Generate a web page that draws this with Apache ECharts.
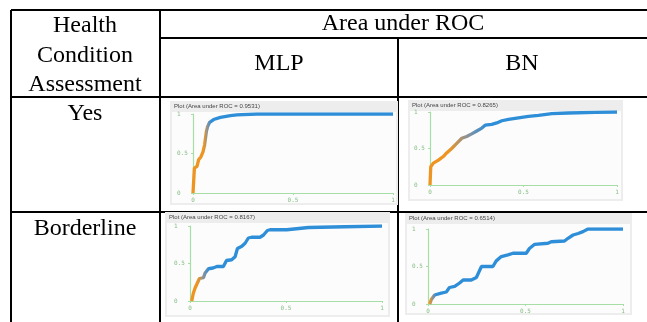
<!DOCTYPE html>
<html>
<head>
<meta charset="utf-8">
<script src="https://cdn.jsdelivr.net/npm/echarts@6/dist/echarts.min.js"></script>
<style>
  html, body { margin: 0; padding: 0; background: #fff; }
  #chart { width: 647px; height: 322px; }
</style>
</head>
<body>
<div id="chart"></div>
<script>
// table text
var rowNames = ['Yes', 'Borderline'];
var modelNames = ['MLP', 'BN'];
var aucTitles = [
  'Plot (Area under ROC = 0.9531)', 'Plot (Area under ROC = 0.8265)',
  'Plot (Area under ROC = 0.8167)', 'Plot (Area under ROC = 0.6514)'
];
var tickValues = [0, 0.5, 1];

// ROC curves: [false positive rate, true positive rate]
var mlpYes = [
  [0, 0], [0.007, 0.315], [0.02, 0.336], [0.028, 0.42], [0.04, 0.46], [0.05, 0.52],
  [0.058, 0.61], [0.067, 0.78], [0.073, 0.84], [0.083, 0.895], [0.103, 0.93],
  [0.137, 0.958], [0.187, 0.98], [0.22, 0.99], [0.32, 1], [1, 1]
];
var bnYes = [
  [0, 0], [0.004, 0.25], [0.018, 0.3], [0.045, 0.34], [0.071, 0.39], [0.089, 0.44],
  [0.116, 0.5], [0.143, 0.57], [0.17, 0.64], [0.196, 0.665], [0.223, 0.7], [0.25, 0.74],
  [0.277, 0.78], [0.295, 0.82], [0.33, 0.83], [0.357, 0.85], [0.384, 0.88], [0.42, 0.9],
  [0.473, 0.92], [0.527, 0.94], [0.58, 0.955], [0.652, 0.977], [0.74, 0.986],
  [0.884, 0.995], [1, 1]
];
var mlpBorderline = [
  [0.009, 0], [0.017, 0.1], [0.026, 0.17], [0.035, 0.19], [0.049, 0.3], [0.07, 0.31],
  [0.078, 0.37], [0.096, 0.43], [0.12, 0.44], [0.14, 0.46], [0.174, 0.46], [0.19, 0.54],
  [0.217, 0.55], [0.235, 0.59], [0.247, 0.7], [0.27, 0.73], [0.287, 0.77], [0.304, 0.84],
  [0.32, 0.85], [0.365, 0.85], [0.383, 0.88], [0.403, 0.94], [0.417, 0.95], [0.504, 0.95],
  [0.513, 0.97], [0.617, 0.98], [0.626, 1], [1, 1]
];
var bnBorderline = [
  [0.009, 0], [0.017, 0.06], [0.034, 0.12], [0.068, 0.146], [0.094, 0.16], [0.11, 0.22],
  [0.137, 0.235], [0.162, 0.28], [0.18, 0.32], [0.222, 0.32], [0.248, 0.354], [0.274, 0.5],
  [0.333, 0.5], [0.35, 0.575], [0.376, 0.633], [0.41, 0.655], [0.436, 0.677], [0.504, 0.677],
  [0.52, 0.74], [0.547, 0.796], [0.615, 0.81], [0.632, 0.83], [0.7, 0.84], [0.718, 0.876],
  [0.744, 0.92], [0.77, 0.94], [0.795, 0.965], [0.82, 1], [1, 1]
];
var curves = [mlpYes, bnYes, mlpBorderline, bnBorderline];

// where the curve colour fades from orange to blue (threshold colouring)
var fadeRanges = [[0.055, 0.09], [0.1, 0.3], [0.04, 0.1], [0.01, 0.04]];

// plot placement: grid box and screenshot box
var plots = [
  { grid: [193, 114, 200, 79], img: [170, 101, 228, 104] },
  { grid: [430, 112, 187, 73], img: [408, 100, 215, 101] },
  { grid: [190, 226, 192, 75], img: [165, 212, 225, 105] },
  { grid: [428, 229, 195, 75], img: [405, 213, 227, 102] }
];

var chart = echarts.init(document.getElementById('chart'));
window.addEventListener('resize', function () { chart.resize(); });

var serif = 'Liberation Serif';
var axisGreen = '#a6dea6';
var labelGreen = '#86bf86';

function tableLine (x1, y1, x2, y2) {
  return {
    type: 'line', z: -20,
    shape: { x1: x1, y1: y1, x2: x2, y2: y2 },
    style: { stroke: '#000', lineWidth: 2 }
  };
}
function cellText (text, x, y) {
  return {
    type: 'text', z: 50, x: x, y: y,
    style: { text: text, font: '24px "' + serif + '"', fill: '#000', align: 'center', verticalAlign: 'middle' }
  };
}

var graphics = [
  tableLine(11, 10, 647, 10),
  tableLine(11, 10, 11, 322),
  tableLine(160, 10, 160, 322),
  tableLine(160, 38, 647, 38),
  tableLine(398, 38, 398, 322),
  tableLine(11, 97, 647, 97),
  tableLine(11, 212, 647, 212),
  cellText('Health', 85, 26),
  cellText('Condition', 85, 56),
  cellText('Assessment', 85, 85),
  cellText('Area under ROC', 403, 24),
  cellText(modelNames[0], 279, 64),
  cellText(modelNames[1], 522, 64),
  cellText(rowNames[0], 85, 114),
  cellText(rowNames[1], 85, 229)
];

var grids = [], xAxes = [], yAxes = [], series = [], visualMaps = [];
plots.forEach(function (p, i) {
  var im = p.img;
  graphics.push({
    type: 'rect', z: -10,
    shape: { x: im[0], y: im[1], width: im[2], height: im[3] },
    style: { fill: '#ededed' }
  });
  graphics.push({
    type: 'rect', z: -9,
    shape: { x: im[0] + 2, y: im[1] + 11, width: im[2] - 4, height: im[3] - 13 },
    style: { fill: '#fcfcfc' }
  });
  graphics.push({
    type: 'text', z: 50, x: im[0] + 4, y: im[1] + 5,
    style: { text: aucTitles[i], font: '6px "Liberation Sans"', fill: '#444', verticalAlign: 'middle' }
  });

  grids.push({ left: p.grid[0], top: p.grid[1], width: p.grid[2], height: p.grid[3], containLabel: false });
  xAxes.push({
    gridIndex: i, type: 'value', min: 0, max: 1, interval: 0.5,
    axisLine: { show: true, onZero: false, lineStyle: { color: axisGreen, width: 1.2 } },
    axisTick: { show: true, length: 2, lineStyle: { color: axisGreen } },
    splitLine: { show: false },
    axisLabel: {
      margin: 4, fontSize: 6, color: labelGreen, fontFamily: 'DejaVu Sans Mono',
      formatter: function (v) { return tickValues.indexOf(v) >= 0 ? String(v) : ''; }
    }
  });
  yAxes.push({
    gridIndex: i, type: 'value', min: 0, max: 1, interval: 0.5,
    axisLine: { show: true, onZero: false, lineStyle: { color: axisGreen, width: 1.2 } },
    axisTick: { show: true, length: 2, lineStyle: { color: axisGreen } },
    splitLine: { show: false },
    axisLabel: {
      margin: 16, align: 'left', fontSize: 6, color: labelGreen, fontFamily: 'DejaVu Sans Mono',
      formatter: function (v) { return tickValues.indexOf(v) >= 0 ? String(v) : ''; }
    }
  });
  series.push({
    type: 'line', xAxisIndex: i, yAxisIndex: i,
    data: curves[i], showSymbol: false, symbol: 'none', silent: true,
    lineStyle: { width: 3.3 }, z: 5
  });
  visualMaps.push({
    type: 'continuous', show: false, seriesIndex: i, dimension: 0,
    min: fadeRanges[i][0], max: fadeRanges[i][1],
    inRange: { color: ['#ee9420', '#8a929a', '#2f8ed8'] }
  });
});

chart.setOption({
  animation: false,
  grid: grids,
  xAxis: xAxes,
  yAxis: yAxes,
  visualMap: visualMaps,
  series: series,
  graphic: { elements: graphics }
});
</script>
</body>
</html>
